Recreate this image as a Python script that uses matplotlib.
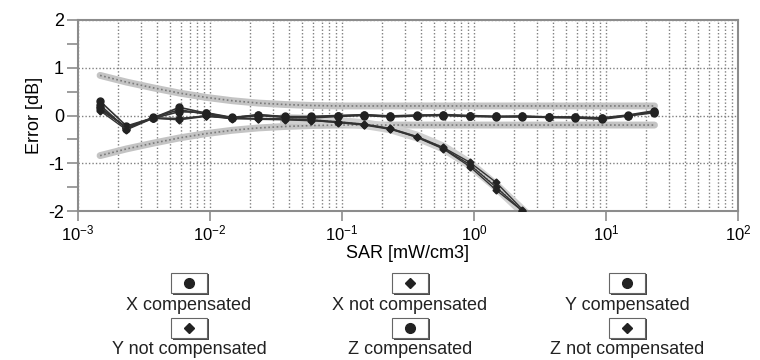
import matplotlib
matplotlib.use("Agg")
import matplotlib.pyplot as plt
from matplotlib.patches import Rectangle
from matplotlib.lines import Line2D
from matplotlib.ticker import LogLocator, MultipleLocator

plt.rcParams['font.family'] = ['Liberation Sans', 'DejaVu Sans']
plt.rcParams['mathtext.fontset'] = 'custom'
plt.rcParams['mathtext.rm'] = 'Liberation Sans'
plt.rcParams['mathtext.it'] = 'Liberation Sans'
plt.rcParams['axes.unicode_minus'] = False

# SAR steps (mW/cm3)
sar = [0.00147, 0.00233, 0.0037, 0.00586, 0.0093, 0.0147, 0.0233, 0.037,
       0.0586, 0.093, 0.147, 0.233, 0.37, 0.586, 0.93, 1.47, 2.33, 3.7,
       5.86, 9.3, 14.7, 23.3]

# compensated errors [dB]
x_comp = [0.30, -0.22, -0.05, 0.17, 0.05, -0.05, 0.02, -0.03, -0.02, 0.0, 0.01,
          -0.02, 0.0, 0.02, 0.0, -0.02, -0.02, -0.04, -0.04, -0.06, 0.0, 0.08]
y_comp = [0.22, -0.28, -0.04, 0.12, 0.03, -0.06, 0.0, -0.04, -0.05, -0.02, 0.0,
          -0.03, -0.01, 0.0, -0.02, -0.03, -0.03, -0.04, -0.05, -0.08, -0.01, 0.06]
z_comp = [0.15, -0.25, -0.06, 0.08, 0.06, -0.04, 0.01, -0.02, -0.03, -0.01, 0.02,
          -0.01, 0.01, 0.01, -0.01, -0.02, -0.01, -0.03, -0.03, -0.05, 0.01, 0.10]

# not compensated errors [dB], until the curve leaves the plot
sar_nc = sar[:17]
x_nc = [0.12, -0.24, -0.05, -0.08, 0.0, -0.06, -0.06, -0.07, -0.09, -0.13, -0.18,
        -0.27, -0.44, -0.67, -0.98, -1.40, -1.97]
y_nc = [0.18, -0.27, -0.05, -0.06, -0.01, -0.07, -0.07, -0.08, -0.10, -0.15, -0.20,
        -0.29, -0.45, -0.69, -1.03, -1.50, -2.0]
z_nc = [0.10, -0.30, -0.06, -0.09, -0.02, -0.05, -0.08, -0.09, -0.11, -0.14, -0.19,
        -0.28, -0.46, -0.70, -1.07, -1.56, -2.0]

# uncertainty limits [dB]
upper_lim = [0.84, 0.70, 0.58, 0.47, 0.38, 0.31, 0.26, 0.23, 0.21, 0.20, 0.20,
             0.20, 0.20, 0.20, 0.20, 0.20, 0.20, 0.20, 0.20, 0.20, 0.20, 0.20]
lower_lim = [-0.84, -0.70, -0.58, -0.47, -0.38, -0.31, -0.26, -0.23, -0.21, -0.20, -0.20,
             -0.20, -0.20, -0.20, -0.20, -0.20, -0.20, -0.20, -0.20, -0.20, -0.20, -0.20]
# limits around the not compensated curve
nc_band = [-0.07, -0.09, -0.13, -0.18, -0.27, -0.44, -0.67, -1.02, -1.48, -2.0]
sar_band = sar[7:17]

labels = ["X compensated", "X not compensated", "Y compensated",
          "Y not compensated", "Z compensated", "Z not compensated"]

fig = plt.figure(figsize=(7.6, 3.6), dpi=100)
ax = fig.add_axes([78 / 760, 1 - 211 / 360, 660 / 760, 191 / 360])
ax.set_xscale('log')
ax.set_xlim(1e-3, 1e2)
ax.set_ylim(-2, 2)

gray = '#8c8c8c'
# limit bands: thick grey with a dotted texture
for lim in (upper_lim, lower_lim):
    ax.plot(sar, lim, color='#c4c4c4', lw=5, solid_capstyle='round', zorder=2)
    ax.plot(sar, lim, color='#7a7a7a', lw=1.2, ls=(0, (1, 1.5)), zorder=2.1)
ax.plot(sar_band, nc_band, color='#d0d0d0', lw=7, zorder=2)
ax.plot(sar_band, nc_band, color='#8a8a8a', lw=1, ls=(0, (1, 1.5)), zorder=2.1)

for vals in (x_comp, y_comp, z_comp):
    ax.plot(sar, vals, color='#333333', lw=1.2, marker='o', ms=5,
            mfc='#222222', mec='#222222', zorder=3)
for vals in (x_nc, y_nc, z_nc):
    ax.plot(sar_nc, vals, color='#333333', lw=1.0, marker='D', ms=3.5,
            mfc='#222222', mec='#222222', zorder=3)

# grid
ax.xaxis.set_major_locator(LogLocator(base=10, numticks=10))
ax.xaxis.set_minor_locator(LogLocator(base=10, subs=range(2, 10), numticks=20))
ax.yaxis.set_major_locator(MultipleLocator(1))
ax.yaxis.set_minor_locator(MultipleLocator(0.5))
ax.grid(which='both', axis='x', color='#808080', ls=(0, (1, 1.5)), lw=1.0)
ax.grid(which='major', axis='y', color='#808080', ls=(0, (1, 1.5)), lw=1.0)
ax.tick_params(axis='x', which='minor', length=0)
ax.tick_params(axis='x', which='major', length=7, width=1.2, color=gray,
               labelsize=12, pad=2)
ax.tick_params(axis='y', which='both', length=8, width=1.2, color=gray,
               labelsize=13, pad=2)
for sp in ax.spines.values():
    sp.set_color(gray)
    sp.set_linewidth(1.5)

ax.set_xlabel("SAR [mW/cm3]", fontsize=13, labelpad=1)
ax.set_ylabel("Error [dB]", fontsize=13, labelpad=4)

# legend: marker box above each label, 3 columns x 2 rows
col_x = [189, 410, 627]
row_box_y = [283, 328]
row_txt_y = [305, 350]
W, H = 760.0, 360.0
for i, lab in enumerate(labels):
    cx = col_x[i % 3]
    r = i // 3
    by = row_box_y[r]
    # drop shadow on the right and bottom
    fig.add_artist(Rectangle(((cx - 16) / W, 1 - (by + 12) / H), 36 / W, 21 / H,
                             transform=fig.transFigure, facecolor='#4a4a4a',
                             edgecolor='none'))
    fig.add_artist(Rectangle(((cx - 18) / W, 1 - (by + 10) / H), 36 / W, 20 / H,
                             transform=fig.transFigure, facecolor='white',
                             edgecolor='#666666', lw=0.8))
    mk = 'o' if 'not' not in lab else 'D'
    fig.add_artist(Line2D([cx / W], [1 - by / H], transform=fig.transFigure,
                          marker=mk, ms=7 if mk == 'o' else 5,
                          mfc='#222222', mec='#222222', ls='none'))
    fig.text(cx / W, 1 - row_txt_y[r] / H, lab, ha='center', va='center',
             fontsize=13, color='#222222')

fig.savefig('out.png', dpi=100)
